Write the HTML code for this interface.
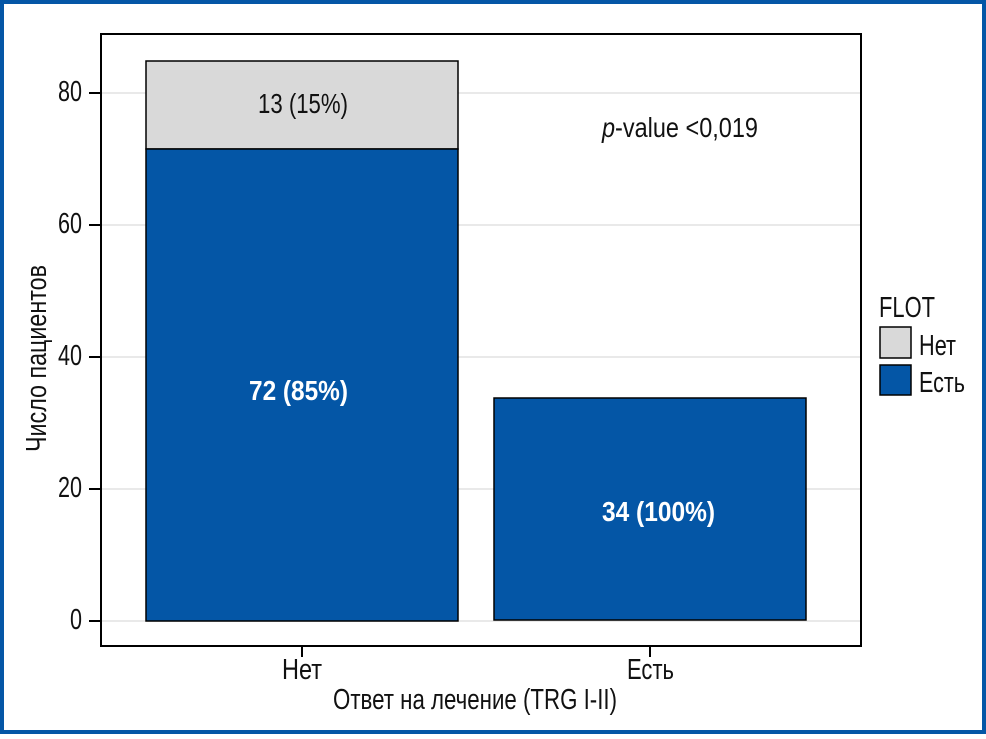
<!DOCTYPE html>
<html><head><meta charset="utf-8"><style>
body{margin:0;background:#fff}
svg text{font-family:"Liberation Sans Narrow","Liberation Sans",sans-serif;fill:#111}
</style></head><body>
<svg width="986" height="734" viewBox="0 0 986 734" xmlns="http://www.w3.org/2000/svg">
<rect x="2" y="2" width="982" height="730" fill="#fff" stroke="#0456a6" stroke-width="4"/>
<g stroke="#e2e2e2" stroke-width="1.5">
<line x1="101" y1="93" x2="860" y2="93"/><line x1="101" y1="225" x2="860" y2="225"/>
<line x1="101" y1="357" x2="860" y2="357"/><line x1="101" y1="489" x2="860" y2="489"/>
<line x1="101" y1="621" x2="860" y2="621"/>
</g>
<rect x="101" y="34" width="760" height="612" fill="none" stroke="#000" stroke-width="2"/>
<g stroke="#000" stroke-width="2">
<line x1="89" y1="93" x2="101" y2="93"/><line x1="89" y1="225" x2="101" y2="225"/>
<line x1="89" y1="357" x2="101" y2="357"/><line x1="89" y1="489" x2="101" y2="489"/>
<line x1="89" y1="621" x2="101" y2="621"/>
<line x1="302" y1="646" x2="302" y2="657"/><line x1="650" y1="646" x2="650" y2="657"/>
</g>
<g font-size="29" lengthAdjust="spacingAndGlyphs">
<text x="58" y="101" textLength="24" lengthAdjust="spacingAndGlyphs">80</text>
<text x="58" y="233" textLength="24" lengthAdjust="spacingAndGlyphs">60</text>
<text x="58" y="365" textLength="24" lengthAdjust="spacingAndGlyphs">40</text>
<text x="58" y="497" textLength="24" lengthAdjust="spacingAndGlyphs">20</text>
<text x="70" y="629" textLength="12" lengthAdjust="spacingAndGlyphs">0</text>
</g>
<rect x="146" y="61" width="312" height="88" fill="#d9d9d9" stroke="#000" stroke-width="1.5"/>
<rect x="146" y="149" width="312" height="472" fill="#0456a6" stroke="#000" stroke-width="1.5"/>
<rect x="494" y="398" width="312" height="222" fill="#0456a6" stroke="#000" stroke-width="1.5"/>
<text x="258" y="113" font-size="28" textLength="90" lengthAdjust="spacingAndGlyphs">13 (15%)</text>
<text x="249" y="400" font-size="28" font-weight="bold" textLength="99" lengthAdjust="spacingAndGlyphs" style="fill:#fff">72 (85%)</text>
<text x="602" y="521" font-size="28" font-weight="bold" textLength="113" lengthAdjust="spacingAndGlyphs" style="fill:#fff">34 (100%)</text>
<text x="602" y="137" font-size="28" textLength="156" lengthAdjust="spacingAndGlyphs"><tspan font-style="italic">p</tspan>-value &lt;0,019</text>
<text x="282" y="679" font-size="29" textLength="40" lengthAdjust="spacingAndGlyphs">Нет</text>
<text x="627" y="679" font-size="29" textLength="47" lengthAdjust="spacingAndGlyphs">Есть</text>
<text x="333" y="709" font-size="29" textLength="284" lengthAdjust="spacingAndGlyphs">Ответ на лечение (TRG I-II)</text>
<text transform="translate(46,452) rotate(-90)" font-size="29" textLength="187" lengthAdjust="spacingAndGlyphs">Число пациентов</text>
<text x="879" y="317" font-size="29" textLength="56" lengthAdjust="spacingAndGlyphs">FLOT</text>
<rect x="880" y="327" width="31" height="31" fill="#d9d9d9" stroke="#000" stroke-width="1.5"/>
<rect x="880" y="365" width="31" height="30" fill="#0456a6" stroke="#000" stroke-width="1.5"/>
<text x="919" y="355" font-size="29" textLength="37" lengthAdjust="spacingAndGlyphs">Нет</text>
<text x="919" y="392" font-size="29" textLength="46" lengthAdjust="spacingAndGlyphs">Есть</text>
</svg>
</body></html>
